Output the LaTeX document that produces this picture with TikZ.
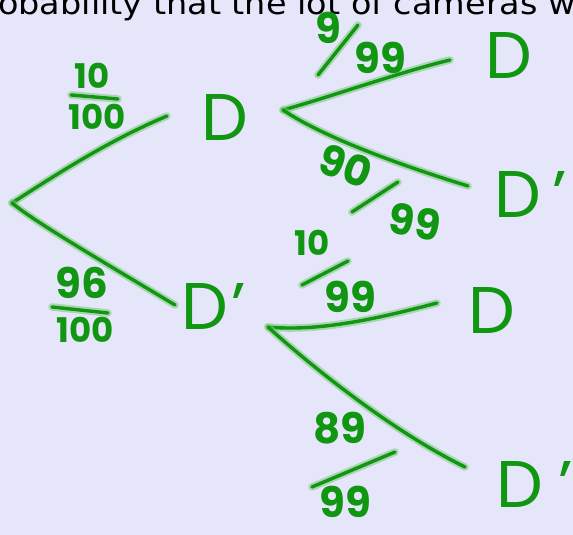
\documentclass[tikz,border=0pt]{standalone}
\usepackage{fontspec}
\setmainfont{Poppins}
\newfontfamily\topfont{DejaVu Sans}
\definecolor{bg}{RGB}{230,230,250}
\definecolor{ink}{RGB}{16,150,16}
\definecolor{halo}{RGB}{120,200,120}
\begin{document}
\begin{tikzpicture}[x=1pt,y=-1pt,
  ink/.style={draw=ink, line width=3.4pt, line cap=round, line join=round,
    preaction={draw=halo, line width=7.5pt, opacity=0.55, line cap=round}},
  lbl/.style={text=ink, inner sep=0pt, font=\fontsize{42}{42}\selectfont\bfseries},
  lblsm/.style={text=ink, inner sep=0pt, font=\fontsize{34}{34}\selectfont\bfseries},
  big/.style={text=ink, inner sep=0pt, font=\fontsize{66}{66}\selectfont}]
\fill[bg] (0,0) rectangle (573,535);
\useasboundingbox (0,0) rectangle (573,535);
\clip (0,0) rectangle (573,535);
\node[anchor=base west, inner sep=0pt, xscale=1.08, font=\topfont\fontsize{31}{31}\selectfont] (title) at (-2,15) {obability that the lot of cameras w};

% branch points
\coordinate (r0) at (12,203);
\coordinate (e1) at (167,116);
\coordinate (e2) at (175,305);
\coordinate (r1) at (283,110);
\coordinate (e11) at (450,60);
\coordinate (e12) at (468,186);
\coordinate (r2) at (268,327);
\coordinate (e21) at (437,303);
\coordinate (e22) at (465,467);

% outcome letters
\node[big] (d1) at (225,117) {D};
\node[big, anchor=west] (d2) at (181,306) {D\hspace{4pt}'};
\node[big] (d11) at (509,55) {D};
\node[big, anchor=west] (d12) at (494,194) {D\hspace{12pt}'};
\node[big] (d21) at (492,310) {D};
\node[big, anchor=west] (d22) at (496,484) {D\hspace{16pt}'};

% branches
\draw[ink] (r0) .. controls (60,172) and (110,140) .. (e1);
\draw[ink] (r0) .. controls (35,222) and (100,260) .. (e2);
\draw[ink] (r1) .. controls (330,97) and (400,72) .. (e11);
\draw[ink] (r1) .. controls (320,135) and (390,162) .. (e12);
\draw[ink] (r2) .. controls (320,332) and (380,318) .. (e21);
\draw[ink] (r2) .. controls (310,365) and (390,430) .. (e22);

% probabilities
\node[lblsm] (n1) at (92,76) {10};
\node[lblsm] (m1) at (97,117) {100};
\draw[ink] (71,95) -- (118,99);
\node[lbl] (n2) at (82,283) {96};
\node[lblsm] (m2) at (85,330) {100};
\draw[ink] (52,307) -- (108,313);

\node[lbl] (n11) at (328,28) {9};
\draw[ink] (318,75) -- (358,25);
\node[lbl] (m11) at (380,58) {99};

\node[lbl, rotate=-20] (n12) at (346,166) {90};
\draw[ink] (352,212) -- (398,182);
\node[lbl, rotate=-10] (m12) at (415,222) {99};

\node[lblsm] (n21) at (312,243) {10};
\draw[ink] (302,285) -- (348,261);
\node[lbl] (m21) at (350,297) {99};

\node[lbl] (n22) at (340,428) {89};
\draw[ink] (312,487) -- (395,452);
\node[lbl] (m22) at (345,502) {99};
\end{tikzpicture}
\end{document}
